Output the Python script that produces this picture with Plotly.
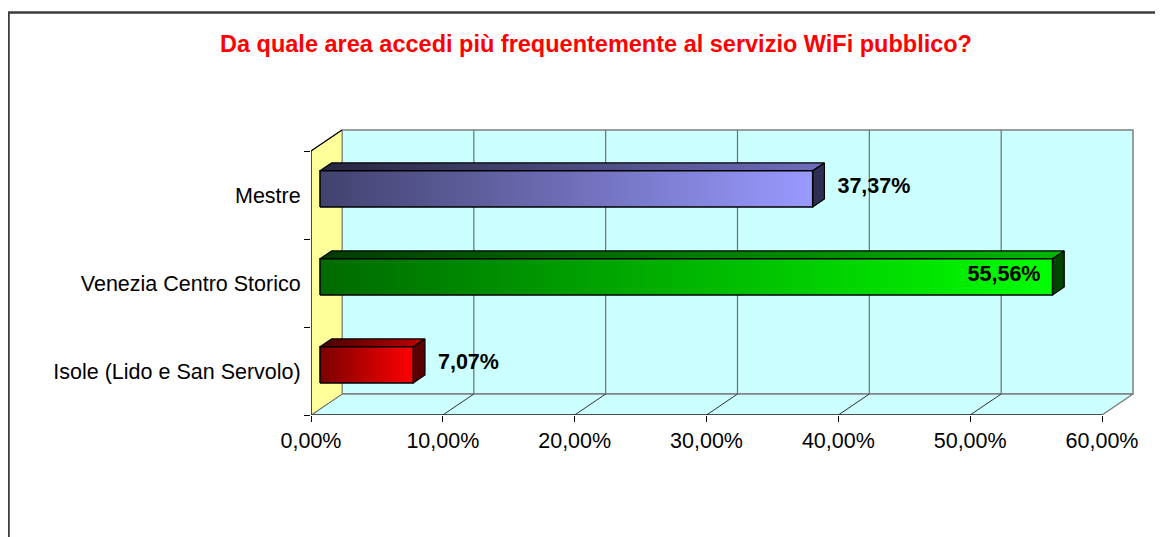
import plotly.graph_objects as go

# ---------------- data ----------------
categories = ["Isole (Lido e San Servolo)", "Venezia Centro Storico", "Mestre"]
values = [7.07, 55.56, 37.37]
label_inside = [False, True, False]
x_ticks = [0, 10, 20, 30, 40, 50, 60]
x_ticktext = ["0,00%", "10,00%", "20,00%", "30,00%", "40,00%", "50,00%", "60,00%"]
title_text = "Da quale area accedi più frequentemente al servizio WiFi pubblico?"

# bar colours (left -> right gradient)
front_dark = ["#7A0000", "#006A00", "#42426F"]
front_light = ["#FF0000", "#00FF00", "#9999FF"]
top_dark = ["#4A0000", "#003C00", "#26263F"]
top_light = ["#C00000", "#00B800", "#6E6EBE"]
side_col = ["#5A0000", "#004400", "#2E2E52"]

# ---------------- geometry (pixel frame) ----------------
W, H = 1163, 537
OFF = 8  # page body margin offset
FRONT_LEFT, FRONT_RIGHT, FRONT_BOTTOM = 311, 1102, 415
PLOT_TOP, PLOT_RIGHT = 120, 1140
ML = FRONT_LEFT - OFF
MT = PLOT_TOP - OFF
MB = H - (FRONT_BOTTOM - OFF)
MR = W - (PLOT_RIGHT - OFF)
PW, PH = W - ML - MR, H - MT - MB
XMAX_VAL = 60
PX_PER_X = (FRONT_RIGHT - FRONT_LEFT) / XMAX_VAL
PX_PER_Y = 88.0
XR = PW / PX_PER_X
YR = PH / PX_PER_Y
NCAT = len(categories)

DX = 31 / PX_PER_X      # depth offset in x units
DY = 21 / PX_PER_Y      # depth offset in category units
F1, F2 = 0.29, 0.67     # bar depth position (fractions)
HB = 0.205              # half bar thickness

FONT = "Liberation Sans, Arial, sans-serif"
FS = 21.5

fig = go.Figure()

def poly(xs, ys, fill=None, grad=None, line_color="black", line_width=1.2):
    kw = dict(x=xs + [xs[0]], y=ys + [ys[0]], mode="lines", fill="toself",
              line=dict(color=line_color, width=line_width),
              hoverinfo="skip", showlegend=False)
    if grad is not None:
        kw["fillgradient"] = dict(type="horizontal", colorscale=[[0, grad[0]], [1, grad[1]]])
    else:
        kw["fillcolor"] = fill
    fig.add_trace(go.Scatter(**kw))

def line(xs, ys, color, width=1.2):
    fig.add_trace(go.Scatter(x=xs, y=ys, mode="lines", line=dict(color=color, width=width),
                             hoverinfo="skip", showlegend=False))

# back wall
poly([DX, XMAX_VAL + DX, XMAX_VAL + DX, DX], [DY, DY, NCAT + DY, NCAT + DY],
     fill="#CCFFFF", line_color="#808080", line_width=1.5)
# gridlines on back wall
for t in x_ticks[1:-1]:
    line([t + DX, t + DX], [DY, NCAT + DY], "#707070", 1.2)
# floor
poly([0, XMAX_VAL, XMAX_VAL + DX, DX], [0, 0, DY, DY],
     fill="#CCFFFF", line_color="#808080", line_width=1.5)
for t in x_ticks[:-1]:
    line([t, t + DX], [0, DY], "#303030", 1)
line([0, XMAX_VAL], [0, 0], "#000000", 1.2)
# side wall
poly([0, DX, DX, 0], [0, DY, NCAT + DY, NCAT],
     fill="#FFFF99", line_color="#808080", line_width=1)
line([0, 0, DX], [0, NCAT, NCAT + DY], "#000000", 1.2)

# bars
for i, v in enumerate(values):
    c = i + 0.5
    xf0, xf1 = F1 * DX, v + F1 * DX
    xb0, xb1 = F2 * DX, v + F2 * DX
    yf0, yf1 = c - HB + F1 * DY, c + HB + F1 * DY
    yb0, yb1 = c - HB + F2 * DY, c + HB + F2 * DY
    # top face
    poly([xf0, xf1, xb1, xb0], [yf1, yf1, yb1, yb1], grad=(top_dark[i], top_light[i]))
    # side face
    poly([xf1, xb1, xb1, xf1], [yf0, yb0, yb1, yf1], fill=side_col[i])
    # front face
    poly([xf0, xf1, xf1, xf0], [yf0, yf0, yf1, yf1], grad=(front_dark[i], front_light[i]),
         line_width=1.5)

# data labels
lx, ly, lt, lp = [], [], [], []
for i, v in enumerate(values):
    c = i + 0.5
    txt = ("%.2f%%" % v).replace(".", ",")
    if label_inside[i]:
        lx.append(v + F1 * DX - 12 / PX_PER_X)
        lp.append("middle left")
    else:
        lx.append(v + F2 * DX + 13 / PX_PER_X)
        lp.append("middle right")
    ly.append(c + F1 * DY + 0.02)
    lt.append(txt)
fig.add_trace(go.Scatter(x=lx, y=ly, text=lt, mode="text", textposition=lp,
                         textfont=dict(family=FONT, size=FS, color="black", weight="bold"),
                         hoverinfo="skip", showlegend=False))

def px_to_paper_x(px_page):
    return (px_page - OFF - ML) / PW

def px_to_paper_y(py_page):
    return (H - MB - (py_page - OFF)) / PH

fig.update_layout(
    width=W, height=H,
    margin=dict(l=ML, r=MR, t=MT, b=MB, pad=0),
    paper_bgcolor="white", plot_bgcolor="white",
    showlegend=False,
    xaxis=dict(range=[0, XR], showgrid=False, zeroline=False, showline=False,
               tickmode="array", tickvals=x_ticks, ticktext=x_ticktext,
               ticks="outside", ticklen=6, tickcolor="black", tickwidth=1,
               tickfont=dict(family=FONT, size=FS, color="black"), fixedrange=True),
    yaxis=dict(range=[0, YR], showgrid=False, zeroline=False, showline=False,
               tickmode="array", tickvals=[i + 0.5 for i in range(NCAT)], ticktext=categories,
               ticks="outside", ticklen=0, tickcolor="rgba(0,0,0,0)",
               ticklabelstandoff=5,
               tickfont=dict(family=FONT, size=FS, color="black"),
               minor=dict(ticks="outside", ticklen=6, tickcolor="black", tick0=0, dtick=1,
                          showgrid=False),
               fixedrange=True),
    shapes=[dict(type="rect", xref="paper", yref="paper",
                 x0=px_to_paper_x(8.5), x1=px_to_paper_x(1185),
                 y0=px_to_paper_y(560), y1=px_to_paper_y(12.5),
                 line=dict(color="#3C3C3C", width=2.5), fillcolor="rgba(0,0,0,0)", layer="above")],
    annotations=[dict(text=title_text, xref="paper", yref="paper",
                      x=px_to_paper_x(596), y=px_to_paper_y(44),
                      xanchor="center", yanchor="middle", showarrow=False,
                      font=dict(family=FONT, size=23.5, color="#FF0000", weight="bold"))],
)

fig.write_html("out.html")
